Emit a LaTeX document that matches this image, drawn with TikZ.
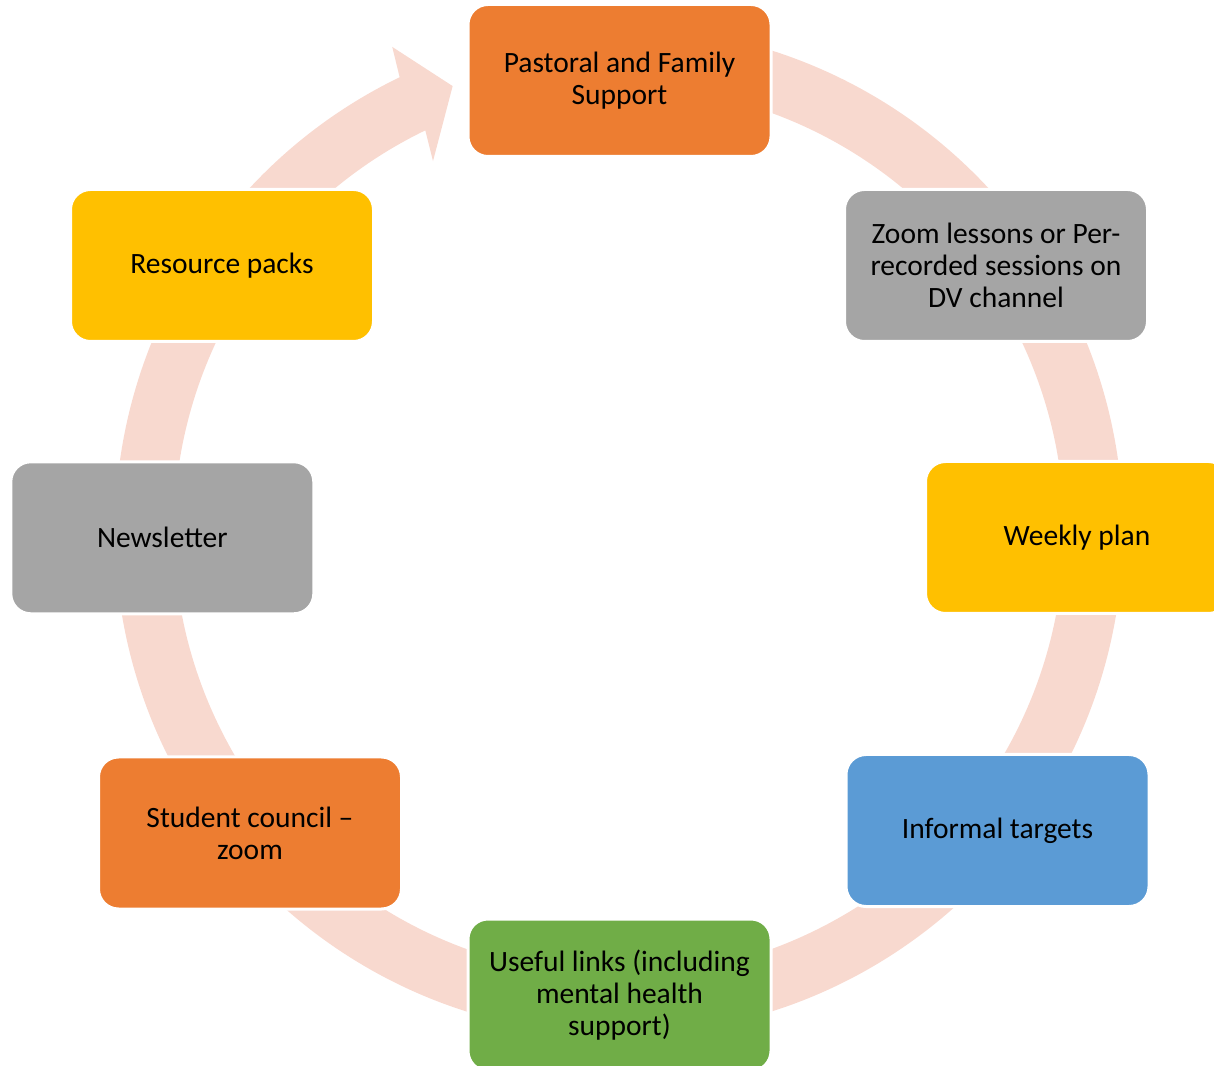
\documentclass[tikz,border=0pt]{standalone}
\usepackage{fontspec}
\setmainfont{Carlito}
\definecolor{cOrange}{HTML}{ED7D31}
\definecolor{cGray}{HTML}{A5A5A5}
\definecolor{cYellow}{HTML}{FFC000}
\definecolor{cBlue}{HTML}{5B9BD5}
\definecolor{cGreen}{HTML}{70AD47}
\definecolor{cRing}{HTML}{F8D9CF}
\begin{document}
\begin{tikzpicture}[x=0.5pt,y=0.5pt,
  box/.style={rectangle, rounded corners=10pt, minimum width=151.5pt, minimum height=76pt,
    draw=white, line width=1.5pt, align=center, text=black, inner sep=0pt,
    font=\fontsize{14.75}{16}\selectfont}]
\useasboundingbox (0,0) rectangle (1214,1065);
\clip (0,0) rectangle (1214,1065);
% ring arrow
\begin{scope}[shift={(619,534)}]
\fill[cRing] (90:504) arc[start angle=90,end angle=-244.2,radius=504]
  -- (-244.9:534.6) -- (-249.5:475) -- (-243.3:414) -- (-244.2:445)
  arc[start angle=-244.2,end angle=90,radius=445] -- cycle;
\end{scope}
% boxes
\node[box, fill=cOrange] (n1) at (619.5,984.5) {Pastoral and Family\\Support};
\node[box, fill=cGray]   (n2) at (996,799.5) {Zoom lessons or Per-\\recorded sessions on\\DV channel};
\node[box, fill=cYellow] (n3) at (1077,527.5) {Weekly plan};
\node[box, fill=cBlue]   (n4) at (997.5,234.5) {Informal targets};
\node[box, fill=cGreen]  (n5) at (619.5,70) {Useful links (including\\mental health\\support)};
\node[box, fill=cOrange] (n6) at (250,232) {Student council –\\zoom};
\node[box, fill=cGray]   (n7) at (162.3,527.2) {Newsletter};
\node[box, fill=cYellow] (n8) at (222,799.5) {Resource packs};
\end{tikzpicture}
\end{document}
